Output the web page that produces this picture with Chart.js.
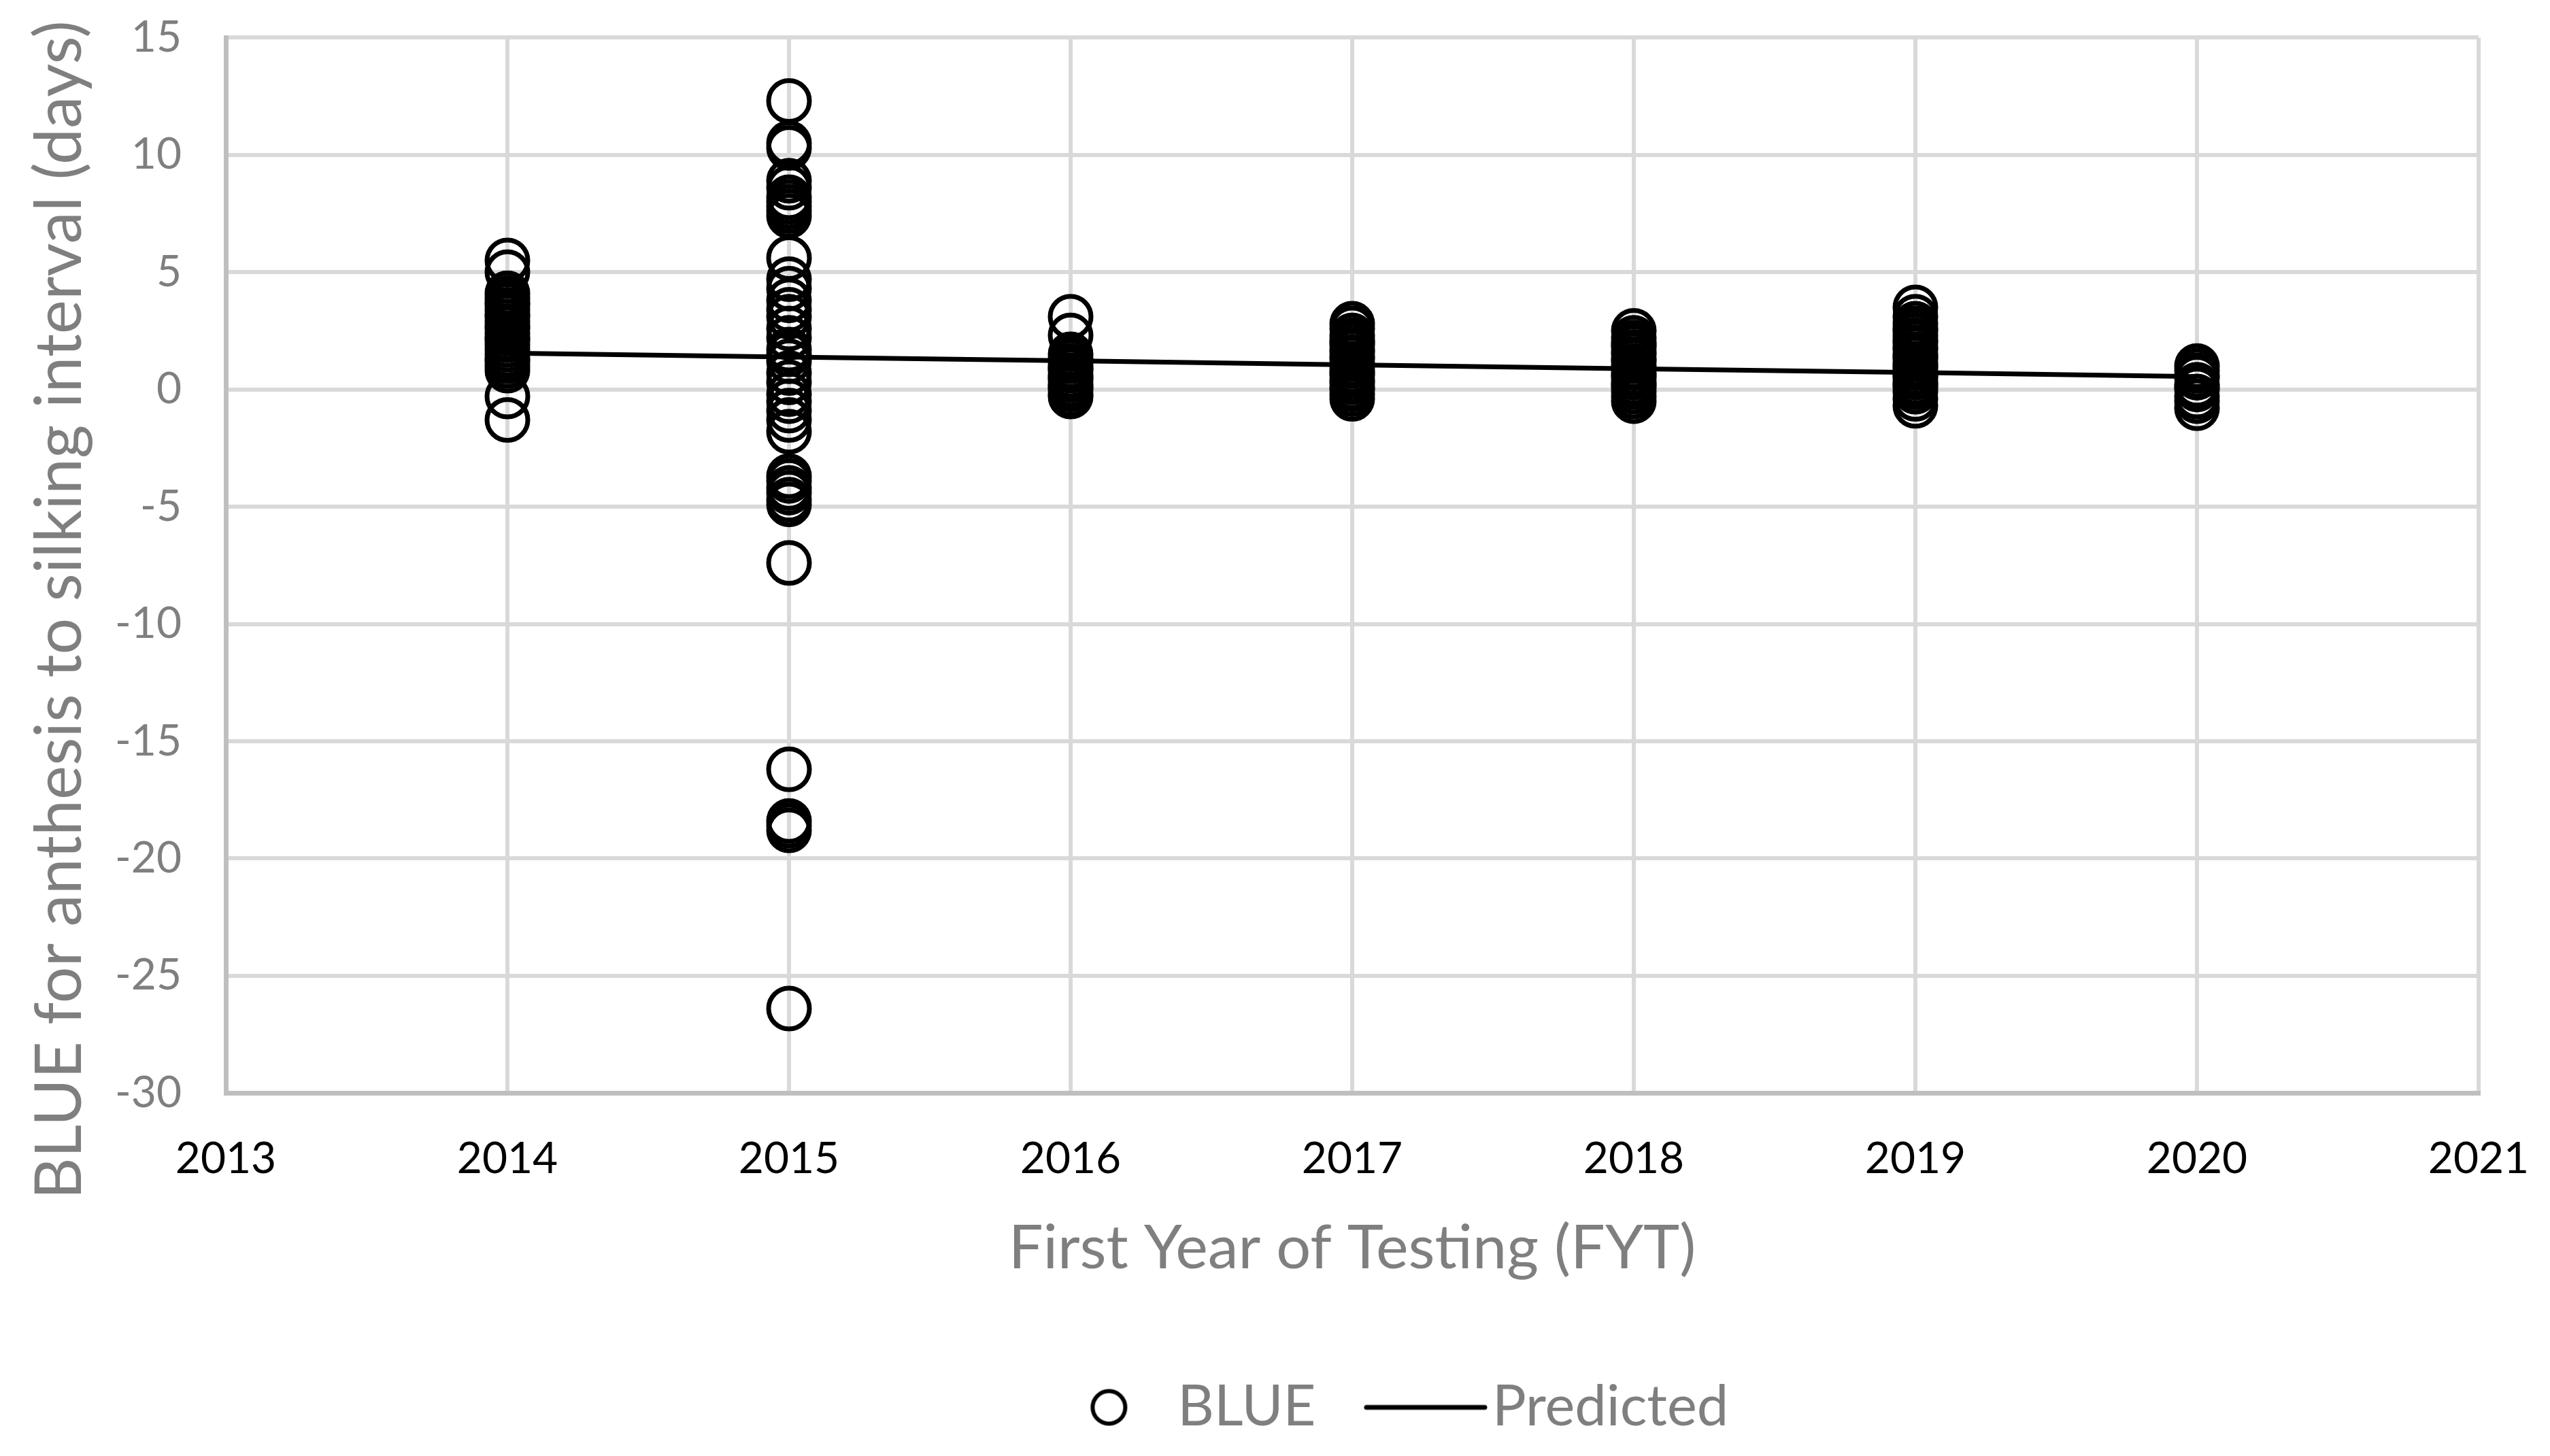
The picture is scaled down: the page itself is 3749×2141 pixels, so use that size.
<!DOCTYPE html>
<html>
<head>
<meta charset="utf-8">
<script src="https://cdn.jsdelivr.net/npm/chart.js@4.4.1/dist/chart.umd.min.js"></script>
<style>
  html, body { margin: 0; padding: 0; background: #fff; }
  #wrap { width: 3749px; height: 2141px; }
</style>
</head>
<body>
<div id="wrap"><canvas id="blueChart" width="3749" height="2141"></canvas></div>
<script>
// BLUE values per first year of testing
const y2014 = [5.5, 5.0, 4.1, 3.9, 3.7, 3.6, 3.4, 3.2, 3.1, 2.9, 2.7, 2.6, 2.4, 2.2, 2.1, 1.9, 1.7, 1.5, 1.3, 1.2, 1.0, 0.8, -0.3, -1.3];
const y2015 = [12.3, 10.5, 10.3, 8.9, 8.6, 8.2, 8.0, 7.8, 7.6, 7.4, 5.6, 4.7, 4.3, 3.8, 3.4, 3.1, 2.6, 2.2, 1.7, 1.5, 1.2, 0.7, 0.3, -0.2, -0.5, -0.9, -1.3, -1.8, -3.7, -3.9, -4.2, -4.4, -4.7, -4.9, -7.4, -16.2, -18.4, -18.6, -18.8, -26.4];
const y2016 = [3.1, 2.3, 1.5, 1.3, 1.2, 1.0, 0.9, 0.8, 0.6, 0.5, 0.4, 0.2, 0.1, 0.0, -0.2, -0.3];
const y2017 = [2.8, 2.6, 2.3, 2.1, 2.0, 1.9, 1.7, 1.6, 1.4, 1.3, 1.1, 1.0, 0.8, 0.7, 0.6, 0.4, 0.3, 0.1, 0.0, -0.2, -0.4];
const y2018 = [2.5, 2.2, 2.0, 1.9, 1.8, 1.6, 1.5, 1.3, 1.2, 1.0, 0.9, 0.7, 0.6, 0.5, 0.3, 0.2, 0.1, -0.1, -0.3, -0.5];
const y2019 = [3.5, 3.1, 2.8, 2.6, 2.5, 2.3, 2.1, 2.0, 1.8, 1.7, 1.5, 1.4, 1.3, 1.1, 1.0, 0.9, 0.7, 0.6, 0.5, 0.3, 0.2, 0.1, -0.1, -0.4, -0.7];
const y2020 = [1.0, 0.8, 0.6, 0.5, 0.2, 0.1, 0.0, -0.3, -0.5, -0.8];

const years = [2014, 2015, 2016, 2017, 2018, 2019, 2020];
const predicted = [1.55, 1.38, 1.22, 1.05, 0.88, 0.72, 0.55];

const xTicks = [2013, 2014, 2015, 2016, 2017, 2018, 2019, 2020, 2021];
const yTicks = [15, 10, 5, 0, -5, -10, -15, -20, -25, -30];

const blueByYear = [y2014, y2015, y2016, y2017, y2018, y2019, y2020];
const bluePoints = [];
blueByYear.forEach((vals, i) => {
  vals.forEach(v => bluePoints.push({ x: years[i], y: v }));
});
const predPoints = years.map((yr, i) => ({ x: yr, y: predicted[i] }));

const grey = '#7f7f7f';
const fontFamily = 'Lato, "Open Sans", sans-serif';
Chart.defaults.font.family = fontFamily;

// legend symbols (drawn as small images so the line can be longer than the circle)
function legendCircle() {
  const c = document.createElement('canvas');
  c.width = 400; c.height = 64;
  const g = c.getContext('2d');
  g.strokeStyle = '#000';
  g.lineWidth = 6;
  g.beginPath();
  g.arc(196, 32, 24, 0, Math.PI * 2);
  g.stroke();
  return c;
}
function legendLine() {
  const c = document.createElement('canvas');
  c.width = 400; c.height = 12;
  const g = c.getContext('2d');
  g.strokeStyle = '#000';
  g.lineWidth = 7;
  g.lineCap = 'round';
  g.beginPath();
  g.moveTo(112, 6);
  g.lineTo(286, 6);
  g.stroke();
  return c;
}
const circleImg = legendCircle();
const lineImg = legendLine();

// the reference legend sits a bit right of centre
const legendShift = {
  id: 'legendShift',
  afterLayout(chart) {
    chart.legend.left += 238;
    chart.legend.right += 238;
  }
};

// y title sits lower than the plot centre in the reference, so draw it here
const yTitle = {
  id: 'yTitle',
  afterDraw(chart) {
    const ctx = chart.ctx;
    ctx.save();
    ctx.translate(88, 897);
    ctx.rotate(-Math.PI / 2);
    ctx.font = '95px ' + fontFamily;
    ctx.fillStyle = grey;
    ctx.textAlign = 'center';
    ctx.textBaseline = 'middle';
    ctx.fillText('BLUE for anthesis to silking interval (days)', 0, 0);
    ctx.restore();
  }
};

new Chart(document.getElementById('blueChart'), {
  type: 'scatter',
  data: {
    datasets: [
      {
        label: 'Predicted',
        type: 'line',
        data: predPoints,
        borderColor: '#000',
        borderWidth: 7,
        pointRadius: 0,
        fill: false,
        order: 0
      },
      {
        label: 'BLUE',
        data: bluePoints,
        pointStyle: 'circle',
        pointRadius: 30,
        pointBorderWidth: 7,
        pointBorderColor: '#000',
        pointBackgroundColor: 'rgba(0,0,0,0)',
        order: 1
      }
    ]
  },
  options: {
    responsive: false,
    devicePixelRatio: 1,
    animation: false,
    events: [],
    layout: { padding: { left: 0, right: 105, top: 0, bottom: 20 } },
    plugins: {
      tooltip: { enabled: false },
      legend: {
        position: 'bottom',
        labels: {
          usePointStyle: true,
          pointStyleWidth: 111,
          color: grey,
          padding: 107,
          font: { size: 83 },
          generateLabels: () => [
            { text: 'BLUE', pointStyle: circleImg, fillStyle: 'rgba(0,0,0,0)', strokeStyle: '#000', lineWidth: 0, hidden: false, datasetIndex: 1, fontColor: grey },
            { text: 'Predicted', pointStyle: lineImg, fillStyle: 'rgba(0,0,0,0)', strokeStyle: '#000', lineWidth: 0, hidden: false, datasetIndex: 0, fontColor: grey }
          ]
        }
      }
    },
    scales: {
      x: {
        type: 'linear',
        min: 2013,
        max: 2021,
        afterBuildTicks: (axis) => { axis.ticks = xTicks.map(v => ({ value: v })); },
        ticks: {
          color: '#000',
          font: { size: 64 },
          padding: 11,
          callback: (v) => String(v)
        },
        grid: { color: '#d9d9d9', lineWidth: 6, drawTicks: true, tickLength: 48, tickColor: 'rgba(0,0,0,0)' },
        border: { color: '#bfbfbf', width: 7 },
        title: {
          display: true,
          text: 'First Year of Testing (FYT)',
          color: grey,
          font: { size: 90 },
          padding: { top: 28, bottom: 31 }
        }
      },
      y: {
        min: -30,
        max: 15,
        afterBuildTicks: (axis) => { axis.ticks = yTicks.map(v => ({ value: v })); },
        afterFit: (axis) => { axis.width = 332; },
        ticks: {
          color: grey,
          font: { size: 64 },
          padding: 17
        },
        grid: { color: '#d9d9d9', lineWidth: 6, drawTicks: true, tickLength: 48, tickColor: 'rgba(0,0,0,0)' },
        border: { color: '#bfbfbf', width: 7 }
      }
    }
  },
  plugins: [legendShift, yTitle]
});
</script>
</body>
</html>
